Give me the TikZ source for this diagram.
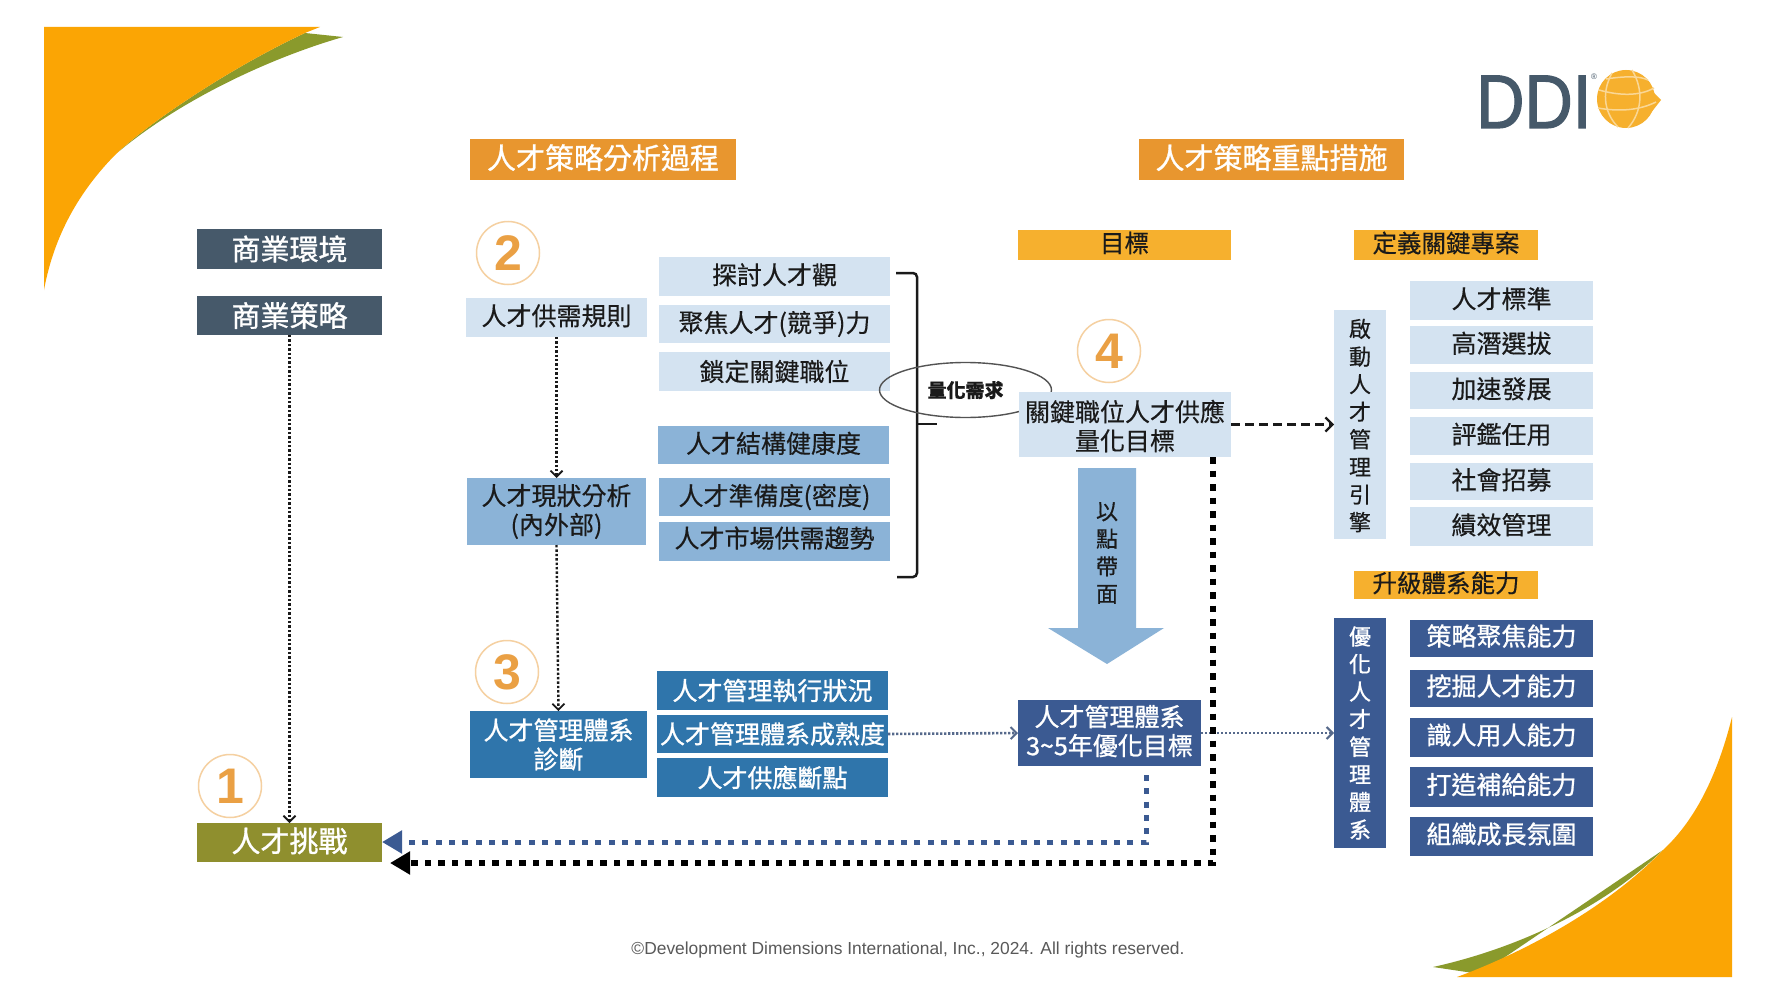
\documentclass[tikz,border=0pt]{standalone}
\usepackage{fontspec}
\setmainfont[FakeBold=0.4]{Noto Sans CJK TC}
\newfontfamily\wf[FakeBold=1]{Noto Sans CJK TC}
\newfontfamily\lat{Liberation Sans}
\newfontfamily\logofont[FakeStretch=0.88,FakeBold=1.5]{Liberation Sans}
\usetikzlibrary{arrows.meta,shapes.geometric}
\definecolor{cornerOr}{HTML}{FBA504}
\definecolor{cornerGr}{HTML}{8A9A2C}
\definecolor{hdrOr}{HTML}{E8962F}
\definecolor{subOr}{HTML}{F6B02E}
\definecolor{slate}{HTML}{46596A}
\definecolor{lightB}{HTML}{D4E3F1}
\definecolor{midB}{HTML}{8BB3D7}
\definecolor{stB}{HTML}{2F75AB}
\definecolor{navy}{HTML}{3B5A92}
\definecolor{olive}{HTML}{8F8F2E}
\definecolor{ink}{HTML}{1A1A1A}
\tikzset{
  bx/.style={inner sep=0pt,outer sep=0pt,align=center,font=\fontsize{25}{29}\selectfont},
  hdr/.style={bx,fill=hdrOr,text=white,font=\wf\fontsize{29}{32}\selectfont,text depth=6pt},
  sub/.style={bx,fill=subOr,text=ink,font=\fontsize{24.5}{28}\selectfont,text depth=6pt},
  dark/.style={bx,fill=slate,text=white,font=\wf\fontsize{29}{32}\selectfont},
  oliv/.style={bx,fill=olive,text=white,font=\wf\fontsize{29}{32}\selectfont,text depth=5.5pt},
  lite/.style={bx,fill=lightB,text=ink},
  liteu/.style={lite,text depth=5.5pt},
  mid/.style={bx,fill=midB,text=ink},
  midu/.style={mid,text depth=5.5pt},
  steel/.style={bx,fill=stB,text=white,font=\wf\fontsize{25}{29}\selectfont},
  nav/.style={bx,fill=navy,text=white,font=\wf\fontsize{25}{29}\selectfont},
  navu/.style={nav,text depth=7pt},
  vlite/.style={lite,font=\fontsize{22}{27.6}\selectfont},
  vnav/.style={nav,font=\wf\fontsize{22}{27.6}\selectfont},
  numc/.style={circle,draw=hdrOr!45,line width=1.5pt,fill=white,minimum size=63pt,inner sep=0pt,text=hdrOr!90,font=\lat\bfseries\fontsize{50}{50}\selectfont},
  thin dots/.style={draw=ink,line width=2.4pt,dash pattern=on 2.4pt off 2pt,-{Straight Barb[length=6pt,width=12pt,line width=1.8pt]}},
  pale dots/.style={draw=navy!60!gray,line width=2.6pt,dash pattern=on 2.4pt off 1.6pt,-{Straight Barb[length=6pt,width=12pt,line width=2pt]}},
  dash link/.style={draw=ink,line width=2.5pt,dash pattern=on 9pt off 5pt,-{Straight Barb[length=7pt,width=14pt,line width=2.2pt]}},
  fat black/.style={draw=black,line width=6pt,dash pattern=on 6.5pt off 7pt,-{Triangle[length=20pt,width=22pt]}},
  fat navy/.style={draw=navy,line width=5pt,dash pattern=on 6pt off 7.3pt,-{Triangle[length=20pt,width=22pt]}},
}
\newcommand{\bxnode}[7]{\node[#2,minimum width={(#5)-(#3)},minimum height={(#6)-(#4)}] (#1) at ({((#3)+(#5))/2},{((#4)+(#6))/2}) {#7};}
\begin{document}
\begin{tikzpicture}[x=1pt,y=-1pt]
\useasboundingbox (0,0) rectangle (1783,1006);
\fill[white] (0,0) rectangle (1783,1006);
% corners
\fill[cornerGr] (117,153) .. controls (150,122) and (230,68) .. (305,33) -- (343,37) .. controls (270,58) and (180,100) .. (117,153) -- cycle;
\fill[cornerOr] (44,27) -- (320,27) -- (305,33) .. controls (230,68) and (150,122) .. (117,153) .. controls (80,190) and (54,235) .. (44,290) -- cycle;
\fill[cornerGr] (1663,850) .. controls (1600,912) and (1510,950) .. (1433,967) -- (1480,974) -- cycle;
\fill[cornerOr] (1732,977) -- (1457,977) .. controls (1530,950) and (1610,905) .. (1663,850) .. controls (1690,825) and (1715,785) .. (1732,717) -- cycle;
% logo
\node[inner sep=0pt,text=slate,font=\logofont\fontsize{76}{76}\selectfont,anchor=base west] (logo) at (1476,128) {DDI};
\node[inner sep=0pt,text=slate,font=\lat\fontsize{8}{8}\selectfont] (reg) at (1594,77) {®};
\fill[subOr] (1626,99) circle (29);
\fill[subOr] (1645,84) -- (1661,100) -- (1650,114) -- cycle;
\draw[white!50!subOr,line width=1.5pt] (1599,90) .. controls (1620,96) and (1640,96) .. (1654,88);
\draw[white!50!subOr,line width=1.5pt] (1598,108) .. controls (1620,112) and (1640,110) .. (1656,102);
\draw[white!50!subOr,line width=1.5pt] (1612,73) .. controls (1600,95) and (1606,115) .. (1618,127);
\draw[white!50!subOr,line width=1.5pt] (1632,70) .. controls (1644,90) and (1642,112) .. (1628,128);
\draw[white!50!subOr,line width=1.5pt] (1606,79) .. controls (1625,76) and (1640,76) .. (1648,80);
% headers
\bxnode{h1}{hdr}{470}{139}{736}{180}{人才策略分析過程}
\bxnode{h2}{hdr}{1139}{139}{1404}{180}{人才策略重點措施}
\bxnode{s1}{sub}{1018}{230}{1231}{260}{目標}
\bxnode{s2}{sub}{1354}{230}{1538}{260}{定義關鍵專案}
\bxnode{s3}{sub}{1354}{571}{1538}{599}{升級體系能力}
% left column
\bxnode{env}{dark}{197}{229}{382}{269}{商業環境}
\bxnode{strat}{dark}{197}{296}{382}{335}{商業策略}
\bxnode{chal}{oliv}{197}{823}{382}{862}{人才挑戰}
% number circles
\node[numc] (n1) at (230,786) {1};
\node[numc] (n2) at (508,253) {2};
\node[numc] (n3) at (507,672) {3};
\node[numc] (n4) at (1109,351) {4};
% bracket
\draw[ink,line width=2.5pt,rounded corners=4pt] (896,273) -- (917,273) -- (917,577) -- (897,577);
\draw[ink,line width=2.5pt] (917,424) -- (937,424);
% process column
\bxnode{p2}{liteu}{466}{298}{647}{337}{人才供需規則}
\bxnode{a1}{liteu}{659}{257}{890}{296}{探討人才觀}
\bxnode{a2}{lite}{659}{305}{890}{343}{聚焦人才(競爭)力}
\bxnode{a3}{lite}{659}{352}{890}{391}{鎖定關鍵職位}
\bxnode{b1}{midu}{658}{426}{889}{464}{人才結構健康度}
\bxnode{b2}{mid}{659}{478}{890}{516}{人才準備度(密度)}
\bxnode{b3}{mid,text depth=9pt}{659}{522}{890}{561}{人才市場供需趨勢}
\bxnode{p3}{mid}{467}{478}{646}{545}{人才現狀分析\\(內外部)}
\bxnode{p4}{steel}{470}{711}{647}{778}{人才管理體系\\診斷}
\bxnode{c1}{steel}{657}{671}{888}{710}{人才管理執行狀況}
\bxnode{c2}{steel}{657}{715}{888}{753}{人才管理體系成熟度}
\bxnode{c3}{steel}{657}{758}{888}{797}{人才供應斷點}
% ellipse
\node[ellipse,draw=ink!75,line width=1.4pt,minimum width=172pt,minimum height=55pt,inner sep=0pt,text=ink,font=\bfseries\fontsize{19}{22}\selectfont] (need) at (965.5,390) {量化需求};
% goals
\bxnode{g1}{lite}{1019}{392}{1231}{457}{\rule{0pt}{24.5pt}關鍵職位人才供應\\量化目標}
\bxnode{g2}{nav}{1018}{700}{1201}{766}{人才管理體系\\3\textasciitilde 5年優化目標\rule[-6pt]{0pt}{1pt}}
% big arrow
\fill[midB] (1078,468) -- (1136,468) -- (1136,628) -- (1164,628) -- (1107,664) -- (1048,628) -- (1078,628) -- cycle;
\node[bx,text=ink,font=\fontsize{22}{27.5}\selectfont] (pt) at (1107,553) {以\\點\\帶\\面};
% right column
\bxnode{v1}{vlite}{1334}{310}{1386}{539}{\rule{0pt}{20.5pt}啟\\動\\人\\才\\管\\理\\引\\擎}
\bxnode{v2}{vnav}{1334}{618}{1386}{848}{優\\化\\人\\才\\管\\理\\體\\系}
\bxnode{r1}{liteu}{1410}{281}{1593}{320}{人才標準}
\bxnode{r2}{liteu}{1410}{326}{1593}{364}{高潛選拔}
\bxnode{r3}{liteu}{1410}{372}{1593}{409}{加速發展}
\bxnode{r4}{liteu}{1410}{417}{1593}{455}{評鑑任用}
\bxnode{r5}{liteu}{1410}{463}{1593}{500}{社會招募}
\bxnode{r6}{liteu}{1410}{507}{1593}{546}{績效管理}
\bxnode{d1}{navu}{1410}{620}{1593}{657}{策略聚焦能力}
\bxnode{d2}{navu}{1410}{670}{1593}{707}{挖掘人才能力}
\bxnode{d3}{navu}{1410}{718}{1593}{757}{識人用人能力}
\bxnode{d4}{navu}{1410}{767}{1593}{807}{打造補給能力}
\bxnode{d5}{navu}{1410}{817}{1593}{856}{組織成長氛圍}
% connectors
\draw[thin dots] (strat.south) -- (chal.north);
\draw[thin dots] (p2.south) -- (p3.north);
\draw[thin dots] (p3.south) -- (p4.north);
\draw[dash link] (g1.east) -- (v1.west);
\draw[pale dots] (c2.east) -- (g2.west);
\draw[pale dots] (g2.east) -- (v2.west);
\coordinate (bk) at (1213,863);
\coordinate (bkend) at (390,863);
\coordinate (nv) at (1146,842);
\draw[fat navy] (g2.south -| nv) ++(0,9) -- (nv) -- (chal.east |- nv);
\draw[fat black] (g1.south -| bk) -- (bk) -- (bkend);
% copyright
\node[inner sep=0pt,text=black!65,font=\lat\fontsize{17.4}{20}\selectfont] (copy) at (908,950) {©Development Dimensions International, Inc., 2024. All rights reserved.};
\end{tikzpicture}
\end{document}
